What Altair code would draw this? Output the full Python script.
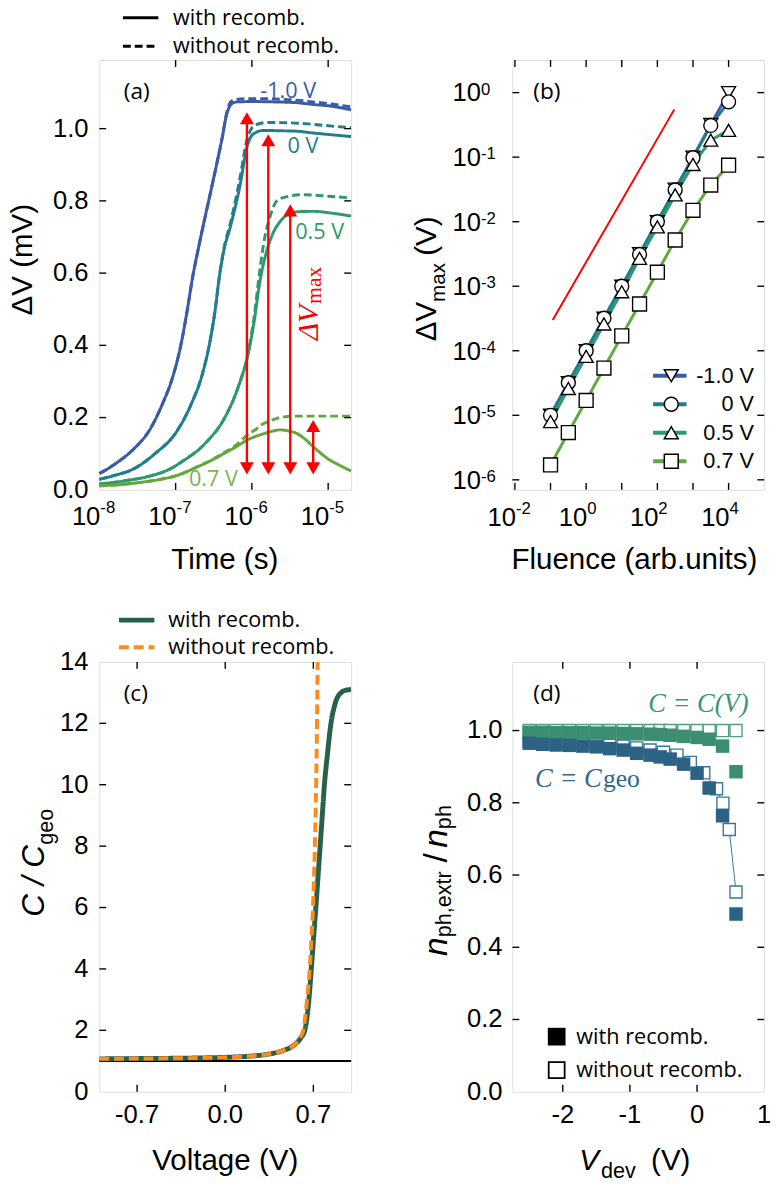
import altair as alt
import pandas as pd

W, H = 256, 437
TK = 7
SANS = "Liberation Sans"
CAL = "Open Sans"
SERIF = "Liberation Serif"

# ---------------- panel (a): transient photovoltage ----------------
A_VOLTS = ["-1.0 V", "0 V", "0.5 V", "0.7 V"]
A_COLORS = ["#3b5ba8", "#207f8e", "#2e996b", "#62a83c"]
KINDS = ["with recomb.", "without recomb."]

a_m10_with_logt = [-8.00, -7.77, -7.56, -7.34, -7.17, -7.04, -6.93, -6.85, -6.78, -6.70, -6.62, -6.53,
                   -6.45, -6.38, -6.34, -6.30, -6.27, -6.20, -6.00, -5.70, -5.42, -5.20, -4.95, -4.70]
a_m10_with_dv = [0.045, 0.075, 0.111, 0.166, 0.239, 0.311, 0.402, 0.494, 0.585, 0.670, 0.749, 0.835,
                 0.913, 0.985, 1.031, 1.058, 1.068, 1.074, 1.075, 1.074, 1.072, 1.067, 1.062, 1.052]
a_m10_wo_logt = [-8.00, -7.77, -7.56, -7.34, -7.17, -7.04, -6.93, -6.85, -6.78, -6.70, -6.62, -6.53,
                 -6.45, -6.38, -6.34, -6.30, -6.27, -6.20, -6.00, -5.70, -5.42, -5.20, -4.95, -4.70]
a_m10_wo_dv = [0.045, 0.075, 0.111, 0.166, 0.239, 0.311, 0.402, 0.494, 0.585, 0.670, 0.749, 0.835,
               0.913, 0.985, 1.035, 1.065, 1.076, 1.081, 1.083, 1.082, 1.079, 1.074, 1.068, 1.060]

a_0_with_logt = [-8.00, -7.80, -7.56, -7.26, -7.00, -6.80, -6.65, -6.55, -6.48, -6.43, -6.37, -6.28,
                 -6.15, -6.07, -6.02, -5.96, -5.85, -5.60, -5.42, -5.20, -4.95, -4.70]
a_0_with_dv = [0.029, 0.040, 0.057, 0.102, 0.157, 0.235, 0.320, 0.410, 0.500, 0.585, 0.660, 0.730,
               0.849, 0.945, 0.975, 0.988, 0.995, 0.994, 0.993, 0.988, 0.983, 0.978]
a_0_wo_logt = [-8.00, -7.80, -7.56, -7.26, -7.00, -6.80, -6.65, -6.55, -6.48, -6.43, -6.37, -6.28,
               -6.15, -6.08, -6.02, -5.95, -5.80, -5.50, -5.20, -4.95, -4.70]
a_0_wo_dv = [0.029, 0.040, 0.057, 0.102, 0.157, 0.235, 0.320, 0.410, 0.500, 0.585, 0.665, 0.740,
             0.870, 0.955, 0.995, 1.010, 1.017, 1.016, 1.012, 1.007, 1.003]

a_05_with_logt = [-8.00, -7.60, -7.34, -7.10, -6.91, -6.61, -6.35, -6.18, -6.05, -5.97, -5.90, -5.81,
                  -5.72, -5.64, -5.55, -5.46, -5.20, -4.95, -4.70]
a_05_with_dv = [0.016, 0.027, 0.038, 0.055, 0.079, 0.129, 0.202, 0.284, 0.375, 0.466, 0.570, 0.658,
                0.712, 0.740, 0.760, 0.769, 0.771, 0.766, 0.758]
a_05_wo_logt = [-8.00, -7.60, -7.34, -7.10, -6.91, -6.61, -6.35, -6.18, -6.05, -5.97, -5.90, -5.85,
                -5.76, -5.66, -5.55, -5.33, -5.00, -4.70]
a_05_wo_dv = [0.016, 0.027, 0.038, 0.055, 0.079, 0.129, 0.202, 0.284, 0.380, 0.480, 0.600, 0.676,
              0.758, 0.803, 0.811, 0.817, 0.813, 0.808]

a_07_with_logt = [-8.00, -7.70, -7.48, -7.20, -7.01, -6.71, -6.50, -6.37, -6.20, -6.07, -5.85, -5.72,
                  -5.63, -5.52, -5.42, -5.30, -5.20, -5.10, -4.99, -4.85, -4.70]
a_07_with_dv = [0.011, 0.015, 0.020, 0.029, 0.038, 0.064, 0.085, 0.100, 0.120, 0.137, 0.155, 0.163,
                0.166, 0.163, 0.157, 0.140, 0.120, 0.102, 0.084, 0.068, 0.052]
a_07_wo_logt = [-8.00, -7.70, -7.48, -7.20, -7.01, -6.71, -6.50, -6.37, -6.20, -6.07, -5.95, -5.85,
                -5.75, -5.63, -5.42, -5.00, -4.70]
a_07_wo_dv = [0.011, 0.015, 0.020, 0.029, 0.038, 0.064, 0.086, 0.102, 0.125, 0.150, 0.167, 0.183,
              0.192, 0.200, 0.204, 0.204, 0.204]

A_ARROW_LOGT = [-6.065, -5.785, -5.497, -5.196]
A_ARROW_TOP = [1.045, 0.984, 0.790, 0.193]
A_ARROW_BOT = [0.043, 0.043, 0.043, 0.043]

A_XTICK_EXP = [-8, -7, -6, -5]
A_XTICKS = [1e-7, 1e-6, 1e-5]
A_YLABELS = [0.0, 0.2, 0.4, 0.6, 0.8, 1.0]
A_YLABEL_TXT = ["0.0", "0.2", "0.4", "0.6", "0.8", "1.0"]
A_YTICKS = [0.2, 0.4, 0.6, 0.8, 1.0]

# ---------------- panel (b): fluence dependence ----------------
B_FLU = [0.1, 0.316, 1.0, 3.16, 10.0, 31.6, 100.0, 316.0, 1000.0, 3160.0, 10000.0]
b_m10 = [1.0e-5, 3.2e-5, 1.0e-4, 3.2e-4, 1.0e-3, 3.2e-3, 1.0e-2, 3.2e-2, 0.100, 0.32, 1.00]
b_0 = [1.0e-5, 3.2e-5, 1.0e-4, 3.2e-4, 1.0e-3, 3.1e-3, 1.0e-2, 3.1e-2, 0.098, 0.31, 0.72]
b_05 = [8.0e-6, 2.6e-5, 8.2e-5, 2.6e-4, 8.2e-4, 2.7e-3, 8.3e-3, 2.6e-2, 0.077, 0.184, 0.26]
b_07 = [1.7e-6, 5.4e-6, 1.7e-5, 5.4e-5, 1.7e-4, 5.3e-4, 1.65e-3, 5.2e-3, 0.015, 0.037, 0.075]
B_SHAPES = ["triangle-down", "circle", "triangle-up", "square"]
B_RED_FLU = [0.115, 300.0]
B_RED_DV = [3.0e-4, 0.55]
B_XTICK_EXP = [-2, 0, 2, 4]
B_XTICK_ALL = [-2, -1, 0, 1, 2, 3, 4]
B_YTICK_EXP = [-6, -5, -4, -3, -2, -1, 0]

# ---------------- panel (c): capacitance ----------------
C_KIND_COLORS = ["#27614a", "#ff8c1a"]
c_with_v = [-1.0, -0.7, -0.4, -0.2, 0.0, 0.2, 0.3, 0.45, 0.54, 0.60, 0.632, 0.66, 0.684, 0.70, 0.72,
            0.737, 0.754, 0.771, 0.788, 0.812, 0.84, 0.87, 0.92, 0.96, 1.0]
c_with_c = [1.07, 1.08, 1.09, 1.10, 1.12, 1.16, 1.20, 1.33, 1.50, 1.75, 2.0, 2.8, 4.0, 4.9, 6.0,
            7.0, 8.0, 9.0, 10.0, 11.0, 12.0, 12.6, 13.0, 13.08, 13.1]
c_wo_v = [-1.0, -0.7, -0.4, -0.2, 0.0, 0.2, 0.3, 0.45, 0.54, 0.60, 0.62, 0.645, 0.671, 0.685, 0.697,
          0.712, 0.722, 0.729, 0.734, 0.737]
c_wo_c = [1.07, 1.08, 1.09, 1.10, 1.12, 1.16, 1.20, 1.33, 1.50, 1.80, 2.0, 2.8, 4.0, 5.0, 6.0,
          8.0, 10.0, 12.0, 14.0, 15.5]
C_REF_V = [-1.0, 1.0]
C_REF_C = [1.0, 1.0]
C_XLABELS = [-0.7, 0.0, 0.7]
C_XLABEL_TXT = ["-0.7", "0.0", "0.7"]
C_YLABELS = [0, 2, 4, 6, 8, 10, 12, 14]
C_YLABEL_TXT = ["0", "2", "4", "6", "8", "10", "12", "14"]
C_YTICKS = [2, 4, 6, 8, 10, 12]

# ---------------- panel (d): extracted photons ----------------
D_SERIES = ["C = C(V)", "C = Cgeo"]
D_FILL = ["#3b8e6f", "#2c6385"]
D_OPEN = ["#4f9f80", "#3b76a0"]
d_v_filled = [-2.5, -2.3, -2.1, -1.9, -1.7, -1.5, -1.3, -1.1, -0.9, -0.7, -0.55, -0.4, -0.2, 0.0,
              0.18, 0.38, 0.58]
d_cv_with = [0.995, 0.995, 0.994, 0.994, 0.994, 0.993, 0.993, 0.992, 0.991, 0.990, 0.989, 0.987,
             0.984, 0.981, 0.976, 0.957, 0.886]
d_geo_with = [0.965, 0.962, 0.960, 0.959, 0.957, 0.955, 0.950, 0.946, 0.937, 0.932, 0.927, 0.921,
              0.907, 0.882, 0.841, 0.764, 0.492]
d_v_cv_wo = [-2.5, -2.3, -2.1, -1.9, -1.7, -1.5, -1.3, -1.1, -0.9, -0.7, -0.55, -0.4, -0.2, 0.0,
             0.18, 0.38, 0.58]
d_cv_wo = [1.000, 1.000, 1.000, 1.000, 1.000, 1.000, 1.000, 1.000, 1.000, 1.000, 1.000, 1.000,
           1.000, 1.000, 1.000, 1.000, 1.000]
d_v_geo_wo = [-2.5, -2.3, -2.1, -1.9, -1.7, -1.5, -1.3, -1.1, -0.9, -0.7, -0.5, -0.3, -0.1, 0.1,
              0.29, 0.385, 0.48, 0.58]
d_geo_wo = [0.970, 0.968, 0.967, 0.966, 0.964, 0.962, 0.959, 0.957, 0.952, 0.946, 0.940, 0.932,
            0.912, 0.883, 0.839, 0.799, 0.726, 0.553]
D_XLABELS = [-2, -1, 0, 1]
D_XLABEL_TXT = ["-2", "-1", "0", "1"]
D_XTICKS = [-2, -1, 0]
D_YLABELS = [0.0, 0.2, 0.4, 0.6, 0.8, 1.0]
D_YLABEL_TXT = ["0.0", "0.2", "0.4", "0.6", "0.8", "1.0"]
D_YTICKS = [0.2, 0.4, 0.6, 0.8, 1.0]
SQ_FILLED = "M-1,-1H1V1H-1Z"
SQ_OPEN = "M-1,-1H1V1H-1Z M-0.8,-0.8V0.8H0.8V-0.8Z"

ONE = pd.DataFrame({"k": [0]})


def txt(text, x, y, size, color="black", font=SANS, angle=0, align="center",
        baseline="middle", style="normal"):
    return alt.Chart(ONE).mark_text(
        text=text, fontSize=size, font=font, color=color, angle=angle, align=align,
        baseline=baseline, fontStyle=style
    ).encode(x=alt.value(x), y=alt.value(y))


def tick_layers(xvals, yvals, xsc, ysc):
    out = []
    if xvals:
        dx = pd.DataFrame({"tv": xvals})
        X = alt.X("tv:Q", scale=xsc, axis=None)
        b = alt.Chart(dx).mark_rule(color="black", strokeWidth=1.4)
        out.append(b.encode(x=X, y=alt.value(0), y2=alt.value(TK)))
        out.append(b.encode(x=X, y=alt.value(H), y2=alt.value(H - TK)))
    if yvals:
        dy = pd.DataFrame({"tv": yvals})
        Y = alt.Y("tv:Q", scale=ysc, axis=None)
        b = alt.Chart(dy).mark_rule(color="black", strokeWidth=1.4)
        out.append(b.encode(y=Y, x=alt.value(0), x2=alt.value(TK)))
        out.append(b.encode(y=Y, x=alt.value(W), x2=alt.value(W - TK)))
    return out


def xlabels(vals, labs, xsc, y):
    df = pd.DataFrame({"tv": vals, "lab": labs})
    return alt.Chart(df).mark_text(align="center", baseline="alphabetic", fontSize=26, font=SANS,
                                   color="black").encode(
        x=alt.X("tv:Q", scale=xsc, axis=None), y=alt.value(y), text="lab:N")


def ylabels(vals, labs, ysc, x):
    df = pd.DataFrame({"tv": vals, "lab": labs})
    return alt.Chart(df).mark_text(align="right", baseline="middle", fontSize=26, font=SANS,
                                   color="black").encode(
        y=alt.Y("tv:Q", scale=ysc, axis=None), x=alt.value(x), text="lab:N")


def pow_labels_x(exps, xsc, ybase, yexp):
    df = pd.DataFrame({"tv": [10.0 ** e for e in exps], "base": ["10" for e in exps],
                       "ex": [str(e) for e in exps]})
    b = alt.Chart(df).mark_text(align="right", baseline="alphabetic", dx=1, fontSize=26, font=SANS,
                                color="black").encode(
        x=alt.X("tv:Q", scale=xsc, axis=None), y=alt.value(ybase), text="base:N")
    e = alt.Chart(df).mark_text(align="left", baseline="alphabetic", dx=1, fontSize=17, font=SANS,
                                color="black").encode(
        x=alt.X("tv:Q", scale=xsc, axis=None), y=alt.value(yexp), text="ex:N")
    return [b, e]


def pow_labels_y(exps, ysc, x):
    df = pd.DataFrame({"tv": [10.0 ** e for e in exps], "base": ["10" for e in exps],
                       "ex": [str(e) for e in exps]})
    b = alt.Chart(df).mark_text(align="right", baseline="alphabetic", dy=9, fontSize=26, font=SANS,
                                color="black").encode(
        y=alt.Y("tv:Q", scale=ysc, axis=None), x=alt.value(x), text="base:N")
    e = alt.Chart(df).mark_text(align="left", baseline="alphabetic", dy=2, fontSize=17, font=SANS,
                                color="black").encode(
        y=alt.Y("tv:Q", scale=ysc, axis=None), x=alt.value(x), text="ex:N")
    return [b, e]


# ================= panel (a) =================
curves = [
    ("-1.0 V", KINDS[0], a_m10_with_logt, a_m10_with_dv),
    ("-1.0 V", KINDS[1], a_m10_wo_logt, a_m10_wo_dv),
    ("0 V", KINDS[0], a_0_with_logt, a_0_with_dv),
    ("0 V", KINDS[1], a_0_wo_logt, a_0_wo_dv),
    ("0.5 V", KINDS[0], a_05_with_logt, a_05_with_dv),
    ("0.5 V", KINDS[1], a_05_wo_logt, a_05_wo_dv),
    ("0.7 V", KINDS[0], a_07_with_logt, a_07_with_dv),
    ("0.7 V", KINDS[1], a_07_wo_logt, a_07_wo_dv),
]
rows = []
for volt, kind, lt, dv in curves:
    for i, (l, v) in enumerate(zip(lt, dv)):
        rows.append({"t": 10 ** l, "dv": v, "volt": volt, "kind": kind, "i": i})
df_a = pd.DataFrame(rows)

xs_a = alt.Scale(type="log", domain=[1e-8, 2e-5])
ys_a = alt.Scale(domain=[0, 1.19], nice=False, zero=False)

leg_a = alt.Legend(orient="none", legendX=31, legendY=-54, title=None, symbolType="M-2,0L2,0",
                   symbolSize=324, symbolStrokeWidth=3, symbolStrokeColor="black",
                   labelFont=CAL, labelFontSize=22, labelColor="black", labelOffset=22,
                   labelLimit=400, rowPadding=7, padding=0)
enc_a = dict(
    x=alt.X("t:Q", scale=xs_a, axis=None),
    y=alt.Y("dv:Q", scale=ys_a, axis=None),
    color=alt.Color("volt:N", scale=alt.Scale(domain=A_VOLTS, range=A_COLORS), legend=None),
    strokeDash=alt.StrokeDash("kind:N", scale=alt.Scale(domain=KINDS, range=[[1, 0], [8, 4]]),
                              legend=leg_a),
    order="i:Q",
)
a_with = alt.Chart(df_a).transform_filter(alt.datum.kind == KINDS[0]).mark_line(
    strokeWidth=3, interpolate="monotone").encode(**enc_a)
a_wo = alt.Chart(df_a).transform_filter(alt.datum.kind == KINDS[1]).mark_line(
    strokeWidth=3, interpolate="monotone").encode(**enc_a)

df_arr = pd.DataFrame({"t": [10 ** l for l in A_ARROW_LOGT], "top": A_ARROW_TOP, "bot": A_ARROW_BOT})
ax_arr = alt.X("t:Q", scale=xs_a, axis=None)
a_rule = alt.Chart(df_arr).mark_rule(color="#ff0000", strokeWidth=2.4, yOffset=-6, y2Offset=6).encode(
    x=ax_arr, y=alt.Y("bot:Q", scale=ys_a, axis=None), y2="top:Q")
a_head_up = alt.Chart(df_arr).mark_point(shape="triangle-up", filled=True, color="#ff0000", size=200,
                                         opacity=1, yOffset=6).encode(
    x=ax_arr, y=alt.Y("top:Q", scale=ys_a, axis=None))
a_head_dn = alt.Chart(df_arr).mark_point(shape="triangle-down", filled=True, color="#ff0000", size=200,
                                         opacity=1, yOffset=-6).encode(
    x=ax_arr, y=alt.Y("bot:Q", scale=ys_a, axis=None))

panel_a = alt.layer(
    a_with, a_wo, a_rule, a_head_up, a_head_dn,
    *pow_labels_x(A_XTICK_EXP, xs_a, H + 36, H + 24),
    ylabels(A_YLABELS, A_YLABEL_TXT, ys_a, -11),
    *tick_layers(A_XTICKS, A_YTICKS, xs_a, ys_a),
    txt("(a)", 38, 33, 23, font=CAL),
    txt("-1.0 V", 192, 32, 22, color=A_COLORS[0], font=CAL),
    txt("0 V", 207, 88, 22, color=A_COLORS[1], font=CAL),
    txt("0.5 V", 224, 175, 22, color=A_COLORS[2], font=CAL),
    txt("0.7 V", 116, 426, 22, color="#78b552", font=CAL),
    txt("\u0394V", 222, 285, 30, color="#ff0000", font=SERIF, angle=270, align="left",
        baseline="alphabetic", style="italic"),
    txt("max", 225, 248, 22, color="#ff0000", font=SERIF, angle=270, align="left",
        baseline="alphabetic"),
    txt("\u0394V (mV)", -68, 203, 30, angle=270, align="center", baseline="alphabetic"),
    txt("Time (s)", 127.5, 518, 30, baseline="alphabetic"),
).properties(width=W, height=H)

# ================= panel (b) =================
rows = []
for volt, vals in zip(A_VOLTS, [b_m10, b_0, b_05, b_07]):
    for f, v in zip(B_FLU, vals):
        rows.append({"flu": f, "dv": v, "volt": volt, "vc": "c" + volt})
df_b = pd.DataFrame(rows)
xs_b = alt.Scale(type="log", domain=[0.0085, 1e5])
ys_b = alt.Scale(type="log", domain=[7e-7, 3.2])

leg_b_line = alt.Legend(orient="none", legendX=149, legendY=310, title=None, symbolType="M-2,0L2,0",
                        symbolSize=289, symbolStrokeWidth=4, labelFont=SANS, labelFontSize=22,
                        labelOpacity=0, labelColor="transparent", labelExpr="''", rowPadding=7,
                        padding=0, zindex=1)
leg_b_pts = alt.Legend(orient="none", legendX=150.5, legendY=310, title=None, symbolSize=200,
                       symbolStrokeWidth=1.5, labelFont=SANS, labelFontSize=22, labelColor="black",
                       labelAlign="right", labelOffset=73, labelLimit=400, rowPadding=7, padding=0,
                       zindex=2)
b_lines = alt.Chart(df_b).mark_line(strokeWidth=3).encode(
    x=alt.X("flu:Q", scale=xs_b, axis=None),
    y=alt.Y("dv:Q", scale=ys_b, axis=None),
    color=alt.Color("vc:N", scale=alt.Scale(domain=["c" + v for v in A_VOLTS], range=A_COLORS),
                    legend=leg_b_line),
    order="flu:Q",
)
b_pts = alt.Chart(df_b).mark_point(filled=True, fill="white", stroke="black", strokeWidth=1.4,
                                   opacity=1, size=200).encode(
    x=alt.X("flu:Q", scale=xs_b, axis=None),
    y=alt.Y("dv:Q", scale=ys_b, axis=None),
    shape=alt.Shape("volt:N", scale=alt.Scale(domain=A_VOLTS, range=B_SHAPES), legend=leg_b_pts),
)
df_red = pd.DataFrame({"flu": B_RED_FLU, "dv": B_RED_DV})
b_red = alt.Chart(df_red).mark_line(color="#ff0000", strokeWidth=2).encode(
    x=alt.X("flu:Q", scale=xs_b, axis=None), y=alt.Y("dv:Q", scale=ys_b, axis=None))

panel_b = alt.layer(
    b_red, b_lines, b_pts,
    *pow_labels_x(B_XTICK_EXP, xs_b, H + 37, H + 25),
    *pow_labels_y(B_YTICK_EXP, ys_b, -32),
    *tick_layers([10.0 ** e for e in B_XTICK_ALL], [10.0 ** e for e in B_YTICK_EXP], xs_b, ys_b),
    txt("(b)", 35, 33, 23, font=CAL),
    txt("\u0394V", -78, 286, 30, angle=270, align="left", baseline="alphabetic"),
    txt("max", -69, 246, 21, angle=270, align="left", baseline="alphabetic"),
    txt("(V)", -78, 199, 30, angle=270, align="left", baseline="alphabetic"),
    txt("Fluence (arb.units)", 124, 518, 30, baseline="alphabetic"),
).properties(width=W, height=H)

# ================= panel (c) =================
df_c = pd.DataFrame(
    [{"v": v, "c": c, "ctype": KINDS[0], "i": i} for i, (v, c) in enumerate(zip(c_with_v, c_with_c))]
    + [{"v": v, "c": c, "ctype": KINDS[1], "i": i} for i, (v, c) in enumerate(zip(c_wo_v, c_wo_c))]
)
df_cref = pd.DataFrame({"v": C_REF_V, "c": C_REF_C})
xs_c = alt.Scale(domain=[-1, 1], nice=False, zero=False)
ys_c = alt.Scale(domain=[0, 14], nice=False, zero=False)
leg_c = alt.Legend(orient="none", legendX=26.5, legendY=-54, title=None, symbolType="M-2,0L2,0",
                   symbolSize=324, symbolStrokeWidth=4.5, labelFont=CAL, labelFontSize=22,
                   labelColor="black", labelOffset=20.5, labelLimit=400, rowPadding=5, padding=0)
enc_c = dict(
    x=alt.X("v:Q", scale=xs_c, axis=None),
    y=alt.Y("c:Q", scale=ys_c, axis=None),
    color=alt.Color("ctype:N", scale=alt.Scale(domain=KINDS, range=C_KIND_COLORS), legend=leg_c),
    strokeDash=alt.StrokeDash("ctype:N", scale=alt.Scale(domain=KINDS, range=[[1, 0], [10, 5]]),
                              legend=leg_c),
    strokeWidth=alt.StrokeWidth("ctype:N", scale=alt.Scale(domain=KINDS, range=[5, 4]), legend=None),
    order="i:Q",
)
c_ref = alt.Chart(df_cref).mark_line(color="black", strokeWidth=2).encode(
    x=alt.X("v:Q", scale=xs_c, axis=None), y=alt.Y("c:Q", scale=ys_c, axis=None))
c_with = alt.Chart(df_c).transform_filter(alt.datum.ctype == KINDS[0]).mark_line(
    interpolate="monotone", clip=True).encode(**enc_c)
c_wo = alt.Chart(df_c).transform_filter(alt.datum.ctype == KINDS[1]).mark_line(
    interpolate="monotone", clip=True).encode(**enc_c)

panel_c = alt.layer(
    c_ref, c_with, c_wo,
    xlabels(C_XLABELS, C_XLABEL_TXT, xs_c, H + 32),
    ylabels(C_YLABELS, C_YLABEL_TXT, ys_c, -11),
    *tick_layers(C_XLABELS, C_YTICKS, xs_c, ys_c),
    txt("(c)", 37, 33, 23, font=CAL),
    txt("C / C", -56, 259, 32, angle=270, align="left", baseline="alphabetic", style="italic"),
    txt("geo", -47, 186, 22, angle=270, align="left", baseline="alphabetic"),
    txt("Voltage (V)", 128, 517, 30, baseline="alphabetic"),
).properties(width=W, height=H)

# ================= panel (d) =================
df_dfill = pd.DataFrame(
    [{"v": v, "r": r, "s": D_SERIES[0]} for v, r in zip(d_v_filled, d_cv_with)]
    + [{"v": v, "r": r, "s": D_SERIES[1]} for v, r in zip(d_v_filled, d_geo_with)]
)
df_dopen = pd.DataFrame(
    [{"v": v, "r": r, "s": D_SERIES[0]} for v, r in zip(d_v_cv_wo, d_cv_wo)]
    + [{"v": v, "r": r, "s": D_SERIES[1]} for v, r in zip(d_v_geo_wo, d_geo_wo)]
)
xs_d = alt.Scale(domain=[-2.75, 1.0], nice=False, zero=False)
ys_d = alt.Scale(domain=[0, 1.19], nice=False, zero=False)
X_d = alt.X("v:Q", scale=xs_d, axis=None)
Y_d = alt.Y("r:Q", scale=ys_d, axis=None)

d_open_line = alt.Chart(df_dopen).transform_filter(alt.datum.s == D_SERIES[1]).mark_line(
    strokeWidth=1, color=D_OPEN[1]).encode(x=X_d, y=Y_d, order="v:Q")
d_open = alt.Chart(df_dopen).mark_square(filled=False, fill="white", strokeWidth=1.4, size=150,
                                        opacity=1).encode(
    x=X_d, y=Y_d,
    stroke=alt.Stroke("s:N", scale=alt.Scale(domain=D_SERIES, range=D_OPEN), legend=None))
d_filled = alt.Chart(df_dfill).mark_square(filled=True, size=188, opacity=1).encode(
    x=X_d, y=Y_d,
    color=alt.Color("s:N", scale=alt.Scale(domain=D_SERIES, range=D_FILL), legend=None))
leg_d = alt.Legend(orient="none", legendX=34, legendY=370, title=None, symbolSize=324,
                   symbolFillColor="black", symbolStrokeWidth=0, labelFont=CAL, labelFontSize=22,
                   labelColor="black", labelOffset=9, labelLimit=400, rowPadding=12, padding=0)
df_dleg = pd.DataFrame({"rec": KINDS})
d_leg = alt.Chart(df_dleg).transform_filter("false").mark_point(
    filled=True, fill="black", strokeWidth=0, opacity=1, size=324).encode(
    shape=alt.Shape("rec:N", scale=alt.Scale(domain=KINDS, range=[SQ_FILLED, SQ_OPEN]), legend=leg_d))

panel_d = alt.layer(
    d_open_line, d_open, d_filled, d_leg,
    xlabels(D_XLABELS, D_XLABEL_TXT, xs_d, H + 32),
    ylabels(D_YLABELS, D_YLABEL_TXT, ys_d, -10),
    *tick_layers(D_XTICKS, D_YTICKS, xs_d, ys_d),
    txt("(d)", 35, 33, 23, font=CAL),
    txt("C = C(V)", 138, 51, 27, color="#3d9474", font=SERIF, align="left", baseline="alphabetic",
        style="italic"),
    txt("C = C", 23, 127, 27, color="#2d6a8c", font=SERIF, align="left", baseline="alphabetic",
        style="italic"),
    txt("geo", 92, 127, 26, color="#2d6a8c", font=SERIF, align="left", baseline="alphabetic"),
    txt("n", -67, 299, 34, angle=270, align="left", baseline="alphabetic", style="italic"),
    txt("ph,extr", -62, 280, 22, angle=270, align="left", baseline="alphabetic"),
    txt("/", -67, 204, 34, angle=270, align="left", baseline="alphabetic"),
    txt("n", -67, 189, 34, angle=270, align="left", baseline="alphabetic", style="italic"),
    txt("ph", -62, 170, 22, angle=270, align="left", baseline="alphabetic"),
    txt("V", 68, 517, 30, align="left", baseline="alphabetic", style="italic"),
    txt("dev", 90, 525, 22, align="left", baseline="alphabetic"),
    txt("(V)", 141, 517, 30, align="left", baseline="alphabetic"),
).properties(width=W, height=H)

chart = alt.concat(panel_a, panel_b, panel_c, panel_d, columns=2,
                   spacing={"row": 32, "column": 54}).resolve_scale(
    color="independent", strokeDash="independent", shape="independent", stroke="independent",
    strokeWidth="independent", x="independent", y="independent"
).properties(
    padding={"left": 8, "top": -4, "right": 4, "bottom": 4}, background="white"
).configure_view(stroke="black", strokeWidth=1.6).configure(font=SANS)

chart.save("out.html", embed_options={"renderer": "svg", "actions": False})
